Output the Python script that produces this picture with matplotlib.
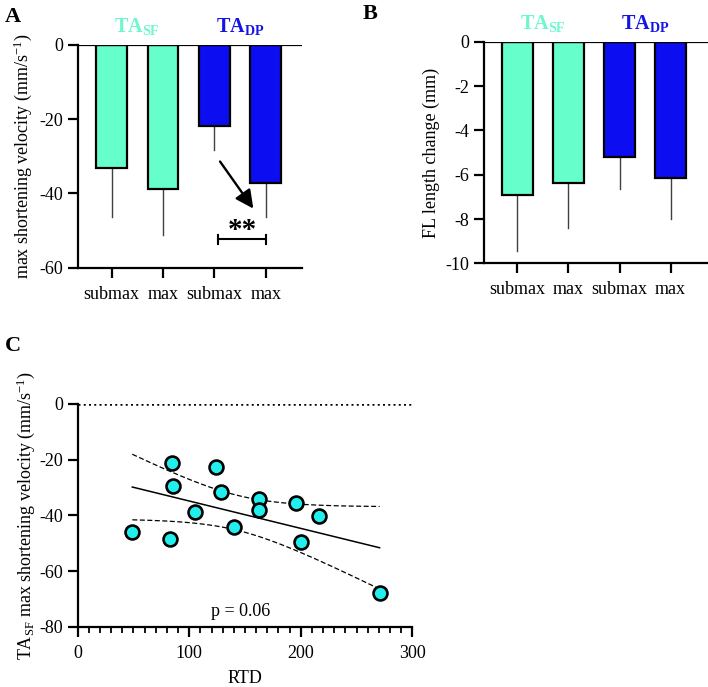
import numpy as np
import matplotlib
matplotlib.use("Agg")
import matplotlib.pyplot as plt
from matplotlib.ticker import MultipleLocator

plt.rcParams['font.family'] = ['Liberation Serif', 'DejaVu Serif']
plt.rcParams['mathtext.fontset'] = 'custom'
plt.rcParams['mathtext.rm'] = 'Liberation Serif'
plt.rcParams['mathtext.bf'] = 'Liberation Serif:bold'
plt.rcParams['mathtext.it'] = 'Liberation Serif:italic'

# ---------------- data ----------------
categories = ["submax", "max", "submax", "max"]
groups = ["SF", "SF", "DP", "DP"]

velocity_mean = [-33.2, -38.9, -21.8, -37.1]
velocity_sd = [13.2, 12.3, 6.5, 9.3]

fl_change_mean = [-6.92, -6.36, -5.19, -6.14]
fl_change_sd = [2.51, 2.06, 1.47, 1.85]

rtd = [49.0, 84.3, 85.4, 83.1, 105.5, 124.0, 128.5, 139.8, 162.2, 162.2, 195.7, 200.2, 216.3, 270.7]
sf_velocity = [-45.9, -21.3, -29.3, -48.4, -38.8, -22.8, -31.7, -44.1, -34.1, -38.2, -35.4, -49.6, -40.1, -68.0]

c_sf = "#66FFCC"
c_dp = "#0D0DF2"
c_sf_txt = "#6EF7CF"
c_dp_txt = "#1414E6"
colors = [c_sf if g == "SF" else c_dp for g in groups]

fig = plt.figure(figsize=(7.08, 6.87), dpi=100)

LW = 1.6
FS = 13


def style_bar_axes(ax, ymin, ystep):
    ax.spines['top'].set_visible(False)
    ax.spines['right'].set_visible(False)
    ax.spines['left'].set_linewidth(LW)
    ax.spines['bottom'].set_linewidth(LW)
    ax.tick_params(axis='both', width=LW, length=7, labelsize=FS, direction='out')
    ax.tick_params(axis='x', pad=6)
    ax.set_yticks(np.arange(ymin, 0.001, ystep))
    ax.set_yticklabels([f"{int(v)}" if v != 0 else "0" for v in np.arange(ymin, 0.001, ystep)])


def draw_bars(ax, means, sds, ymin, ystep, xlim):
    x = np.arange(len(means))
    ax.bar(x, means, width=0.6, color=colors, edgecolor='black', linewidth=LW, zorder=2)
    for xi, m, s in zip(x, means, sds):
        ax.plot([xi, xi], [m, m - s], color='#404040', lw=1.0, zorder=1)
    ax.axhline(0, color='black', lw=LW, zorder=3)
    ax.set_xlim(*xlim)
    ax.set_ylim(ymin, 0)
    ax.set_xticks(x)
    ax.set_xticklabels(categories)
    style_bar_axes(ax, ymin, ystep)
    ax.text(0.5, 1.035, r"$\mathbf{TA_{SF}}$", color=c_sf_txt, fontsize=FS + 1.5,
            transform=ax.get_xaxis_transform(), ha='center', va='bottom')
    ax.text(2.5, 1.035, r"$\mathbf{TA_{DP}}$", color=c_dp_txt, fontsize=FS + 1.5,
            transform=ax.get_xaxis_transform(), ha='center', va='bottom')


# ---------------- Panel A ----------------
axA = fig.add_axes([0.1097, 0.6104, 0.3164, 0.3242])
draw_bars(axA, velocity_mean, velocity_sd, -60, 20, (-0.66, 3.70))
axA.set_ylabel(r"max shortening velocity (mm/s$^{\mathregular{-1}}$)", fontsize=FS, labelpad=4)
axA.annotate("", xy=(2.79, -44.7), xytext=(2.08, -30.8),
             arrowprops=dict(arrowstyle='-|>,head_length=1.1,head_width=0.55', color='black', lw=1.7))
axA.text(2.54, -50.0, "**", ha='center', va='center', fontsize=21, fontweight='bold')
axA.plot([2.08, 3.0], [-52.4, -52.4], color='black', lw=1.5)
axA.plot([2.08, 2.08], [-51.1, -53.7], color='black', lw=1.5)
axA.plot([3.0, 3.0], [-51.1, -53.7], color='black', lw=1.5)
fig.text(0.007, 0.975, "A", fontsize=16, fontweight='bold', va='center')

# ---------------- Panel B ----------------
axB = fig.add_axes([0.6836, 0.6167, 0.3164, 0.3226])
draw_bars(axB, fl_change_mean, fl_change_sd, -10, 2, (-0.65, 3.73))
axB.set_ylabel("FL length change (mm)", fontsize=FS, labelpad=4)
fig.text(0.512, 0.980, "B", fontsize=16, fontweight='bold', va='center')

# ---------------- Panel C ----------------
axC = fig.add_axes([0.1097, 0.0878, 0.4726, 0.3242])
xs = np.array(rtd)
ys = np.array(sf_velocity)
n = len(xs)
slope, intercept = np.polyfit(xs, ys, 1)
xx = np.linspace(xs.min(), xs.max(), 200)
yy = slope * xx + intercept
resid = ys - (slope * xs + intercept)
s_err = np.sqrt(np.sum(resid ** 2) / (n - 2))
t_crit = 2.179  # t(0.975, df=12)
se_fit = s_err * np.sqrt(1.0 / n + (xx - xs.mean()) ** 2 / np.sum((xs - xs.mean()) ** 2))
axC.plot(xx, yy, color='black', lw=1.1, zorder=2)
axC.plot(xx, yy + t_crit * se_fit, color='black', lw=0.9, ls=(0, (4, 2)), zorder=2)
axC.plot(xx, yy - t_crit * se_fit, color='black', lw=0.9, ls=(0, (4, 2)), zorder=2)
axC.scatter(xs, ys, s=100, color='#22EEEE', edgecolor='black', linewidth=1.9, zorder=3)
axC.axhline(0, color='black', lw=1.8, ls=(0, (0.8, 1.3)), zorder=1)
axC.set_xlim(0, 300)
axC.set_ylim(-80, 0)
axC.set_xticks([0, 100, 200, 300])
axC.xaxis.set_minor_locator(MultipleLocator(10))
axC.set_yticks([-80, -60, -40, -20, 0])
axC.set_yticklabels(["-80", "-60", "-40", "-20", "0"])
for sp in ['top', 'right']:
    axC.spines[sp].set_visible(False)
axC.spines['left'].set_linewidth(LW)
axC.spines['bottom'].set_linewidth(LW)
axC.tick_params(axis='both', which='major', width=LW, length=7, labelsize=FS)
axC.tick_params(axis='x', which='minor', width=1.3, length=4)
axC.tick_params(axis='x', which='major', pad=6)
axC.set_xlabel("RTD", fontsize=FS, labelpad=6)
axC.set_ylabel(r"TA$_{\mathregular{SF}}$ max shortening velocity (mm/s$^{\mathregular{-1}}$)", fontsize=FS, labelpad=2)
axC.text(146, -74.4, "p = 0.06", ha='center', va='center', fontsize=FS)
fig.text(0.007, 0.497, "C", fontsize=16, fontweight='bold', va='center')

fig.savefig("out.png", dpi=100)
